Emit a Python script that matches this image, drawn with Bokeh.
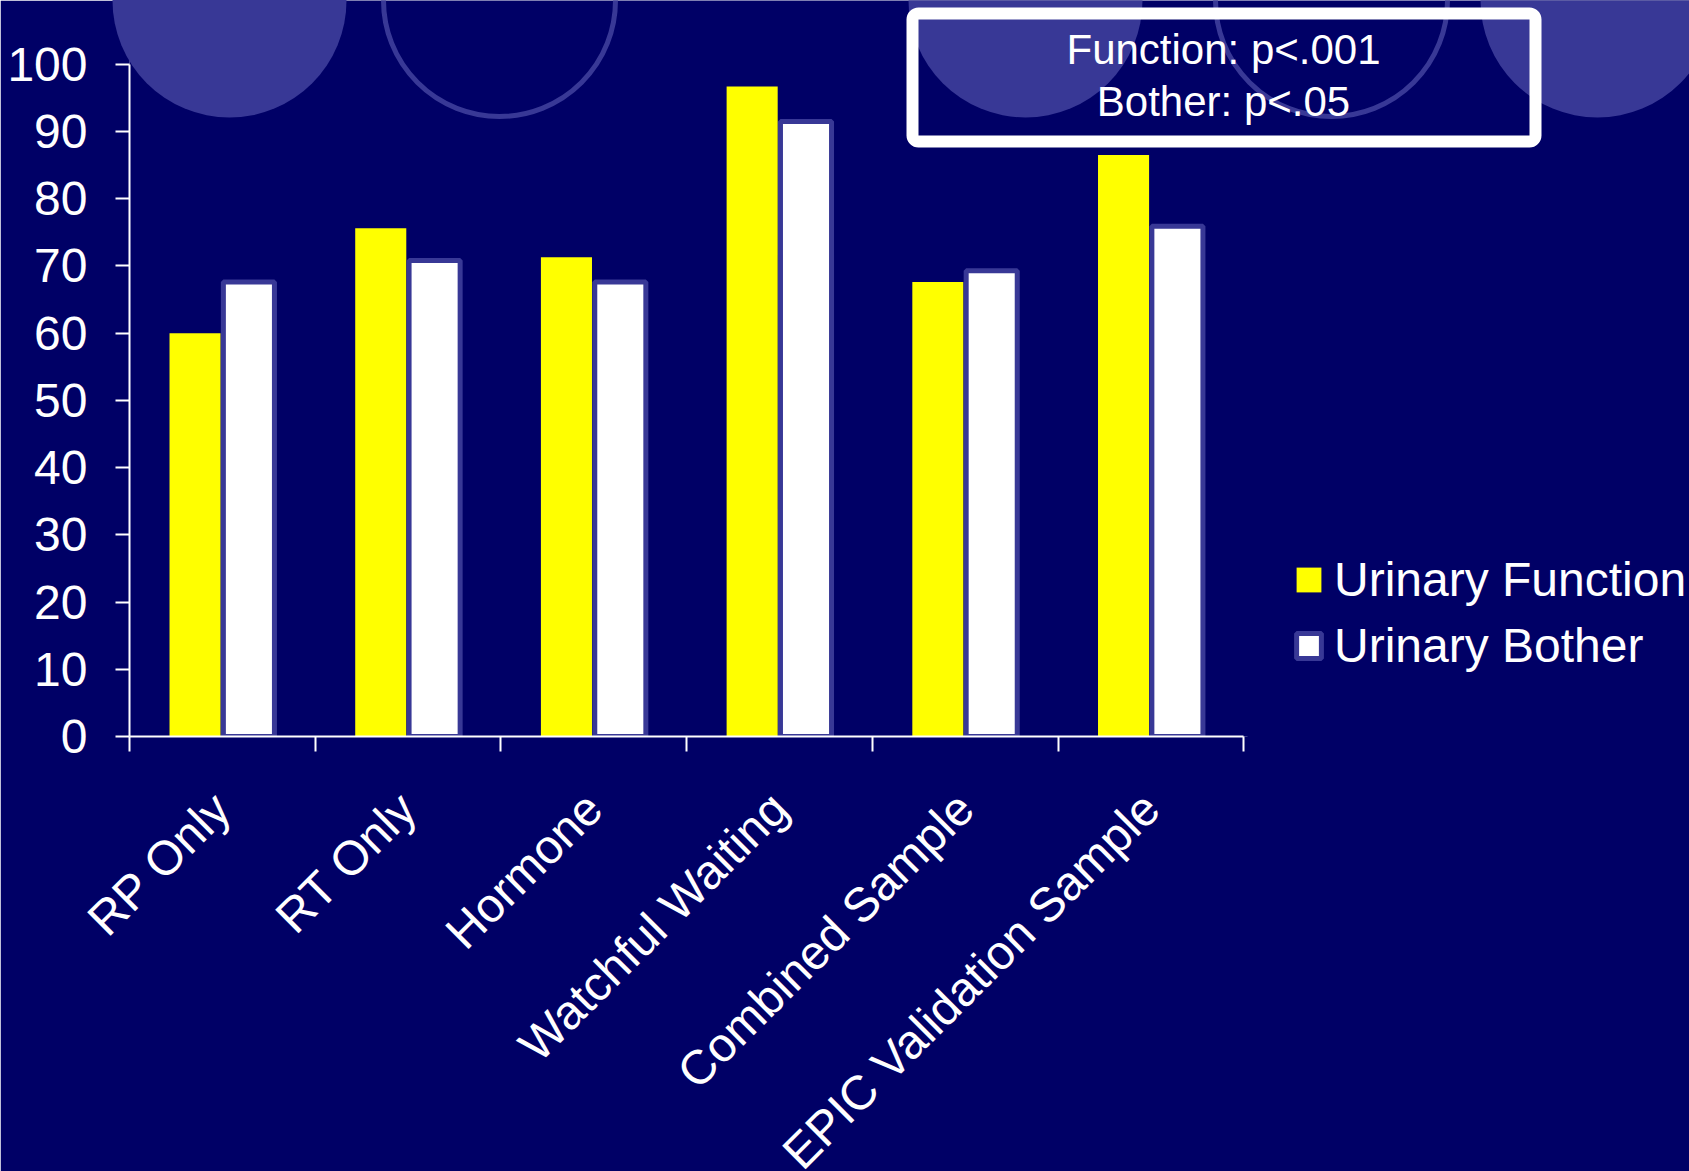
import math
import numpy as np
from bokeh.plotting import figure
from bokeh.models import (Range1d, FixedTicker, Legend, LegendItem, BoxAnnotation,
                          Label, ColumnDataSource)
from bokeh.core.properties import value
from bokeh.embed import file_html
from bokeh.resources import INLINE

# ---- data -------------------------------------------------------------
categories = ["RP Only", "RT Only", "Hormone", "Watchful Waiting",
              "Combined Sample", "EPIC Validation Sample"]
urinary_function = [60.0, 75.6, 71.3, 96.7, 67.6, 86.5]
urinary_bother = [67.6, 70.8, 67.6, 91.5, 69.3, 75.9]
y_ticks = [0, 10, 20, 30, 40, 50, 60, 70, 80, 90, 100]
stats_lines = ["Function: p<.001", "Bother: p<.05"]

# ---- page geometry ------------------------------------------------------
W, H = 1689, 1171
FRAME_LEFT = 129
FRAME_BOTTOM = 736          # pixel row of the value axis zero
PX_PER_CAT = 185.7          # one category slot
PX_PER_UNIT = 6.722         # one unit of the value axis

NAVY = "#000066"
SLATE = "#383896"
FONT = "Liberation Sans"

x_end = (W - FRAME_LEFT) / PX_PER_CAT
y_end = FRAME_BOTTOM / PX_PER_UNIT


def dx(px):
    """page x pixel -> x data coordinate"""
    return (px - FRAME_LEFT) / PX_PER_CAT


def dy(py):
    """page y pixel -> y data coordinate"""
    return (FRAME_BOTTOM - py) / PX_PER_UNIT


p = figure(width=W, height=H, output_backend="svg", toolbar_location=None,
           x_range=Range1d(0, x_end), y_range=Range1d(0, y_end),
           min_border_left=FRAME_LEFT, min_border_right=0, min_border_top=0,
           min_border_bottom=H - FRAME_BOTTOM,
           background_fill_color=NAVY, border_fill_color=NAVY,
           outline_line_color=None)
p.xgrid.visible = False
p.ygrid.visible = False

# ---- decorative slide circles along the top edge ------------------------
# the left-most disc reaches past the value axis, so it is painted unclipped
lead = ColumnDataSource(dict(x=[dx(229)], y=[dy(0)]))
p.circle(x="x", y="y", radius=117, radius_units="screen", source=lead,
         fill_color=SLATE, line_color=None, level="annotation")
deco = ColumnDataSource(dict(x=[dx(1025), dx(1597)], y=[dy(0)] * 2))
p.circle(x="x", y="y", radius=117, radius_units="screen", source=deco,
         fill_color=SLATE, line_color=None, level="underlay")
rings = ColumnDataSource(dict(x=[dx(499), dx(1331)], y=[dy(0)] * 2))
p.circle(x="x", y="y", radius=116, radius_units="screen", source=rings,
         fill_color=None, line_color=SLATE, line_width=5, level="underlay")

# ---- bars ---------------------------------------------------------------
centers = np.arange(len(categories)) + 0.5
bar_w = 0.275
r_func = p.vbar(x=centers - 0.147, top=urinary_function, width=bar_w, bottom=0,
                fill_color="#FFFF00", line_color=None)
r_both = p.vbar(x=centers + 0.143, top=urinary_bother, width=bar_w, bottom=0,
                fill_color="white", line_color=SLATE, line_width=5)

# ---- axes ---------------------------------------------------------------
xa = p.xaxis[0]
xa.bounds = (0, len(categories))
xa.ticker = FixedTicker(ticks=[], minor_ticks=list(range(len(categories) + 1)))
xa.minor_tick_out = 15
xa.minor_tick_in = 0
xa.minor_tick_line_color = "white"
xa.minor_tick_line_width = 2
xa.axis_line_color = "white"
xa.axis_line_width = 2

# the frame's lower edge past the last slot is painted over in navy
p.segment(x0=[dx(1247)], y0=[0], x1=[x_end + 1], y1=[0], line_color=NAVY,
          line_width=3, level="annotation")

# slanted category names under each slot
cat_src = ColumnDataSource(dict(x=centers, y=[dy(800)] * len(categories),
                                text=categories))
p.text(x="x", y="y", text="text", source=cat_src, angle=math.pi / 4,
       x_offset=0, text_align="right", text_baseline="middle",
       text_color="white", text_font=value(FONT), text_font_size="48px",
       level="annotation")

ya = p.yaxis[0]
ya.bounds = (0, 100)
ya.ticker = FixedTicker(ticks=y_ticks, minor_ticks=[])
ya.major_tick_out = 14
ya.major_tick_in = 0
ya.major_tick_line_color = "white"
ya.major_tick_line_width = 2
ya.axis_line_color = "white"
ya.axis_line_width = 2
ya.major_label_text_color = "white"
ya.major_label_text_font = FONT
ya.major_label_text_font_size = "48px"
ya.major_label_standoff = 28

# ---- significance box ---------------------------------------------------
p.add_layout(BoxAnnotation(left=dx(912), right=dx(1535), top=dy(13), bottom=dy(141),
                           fill_alpha=0, line_color="white", line_alpha=1,
                           line_width=12, border_radius=6))
for text, base in zip(stats_lines, [49, 101]):
    p.add_layout(Label(x=dx(1223), y=dy(base), text=text, text_align="center",
                       text_baseline="alphabetic", text_color="white",
                       text_font=FONT, text_font_size="42px"))

# ---- legend -------------------------------------------------------------
legend = Legend(items=[LegendItem(label="Urinary Function", renderers=[r_func]),
                       LegendItem(label="Urinary Bother", renderers=[r_both])],
                location=(1293 - FRAME_LEFT, 63), orientation="vertical",
                padding=0, margin=0, spacing=11,
                glyph_width=31, glyph_height=31, label_standoff=10,
                label_text_font=FONT, label_text_font_size="48px",
                label_text_color="white",
                background_fill_alpha=0, border_line_alpha=0)
p.add_layout(legend)

open("out.html", "w").write(file_html(p, INLINE))
